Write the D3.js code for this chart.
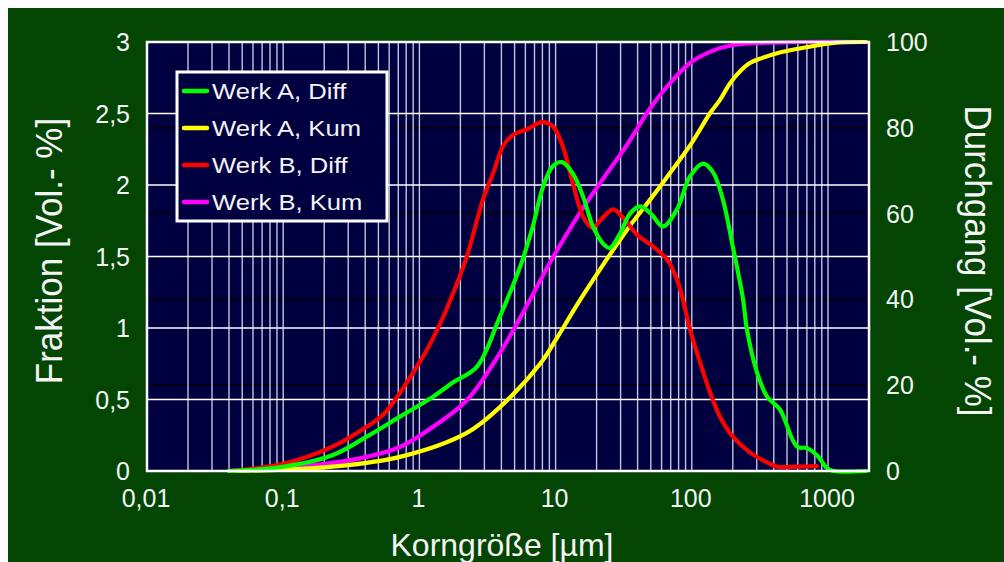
<!DOCTYPE html>
<html><head><meta charset="utf-8">
<script src="https://cdn.jsdelivr.net/npm/d3@7"></script>
<style>body{margin:0;background:#fff;}svg{display:block;font-family:"Liberation Sans",Arial,sans-serif;}</style>
</head><body><svg id="c" width="1004" height="562"></svg>
<script>
// ---- data ----
const seriesNames = ["Werk A, Diff","Werk A, Kum","Werk B, Diff","Werk B, Kum"];
const seriesColors = ["#00ff00","#ffff00","#ff0000","#ff00ff"];
const leftTicks = [0,0.5,1,1.5,2,2.5,3];
const leftTickLabels = ["0","0,5","1","1,5","2","2,5","3"];
const rightTicks = [0,20,40,60,80,100];
const xTicks = [0.01,0.1,1,10,100,1000];
const xTickLabels = ["0,01","0,1","1","10","100","1000"];

const werkA_diff_x = [0.04,0.1,0.23,0.41,0.72,1.26,1.77,2.65,3.9,5.5,6.8,8.1,9.5,11.1,13.4,15.9,18.8,22.3,25,29.7,35.2,41.7,50,61.5,77.8,97,121,143,169,200,238,254,301,357,444,592,700,830,984,1100,1900];
const werkA_diff_y = [0,0.03,0.11,0.24,0.38,0.52,0.62,0.73,1.08,1.43,1.71,1.99,2.13,2.16,2.08,1.92,1.71,1.59,1.56,1.66,1.80,1.85,1.80,1.71,1.83,2.06,2.15,2.09,1.90,1.57,1.20,0.99,0.69,0.52,0.43,0.17,0.16,0.11,0.02,0,0];

const werkA_kum_x = [0.04,0.1,0.23,0.72,2.23,3.9,7.7,10,14.4,21.2,33.4,49.3,65.7,100,136,161,191,230,267,330,423,550,700,1100,1900];
const werkA_kum_y = [0,0.3,1.0,3.3,8.9,14.9,25,30.5,38.8,47,56.2,63.2,68.5,76.5,83.4,86.5,90.4,93.4,95.1,96.3,97.4,98.2,98.8,99.8,100];

const werkB_diff_x = [0.04,0.1,0.23,0.41,0.55,0.81,1.14,1.42,1.68,2.23,2.93,3.47,4.11,4.86,6.17,7.94,9.55,11.3,13.4,15.9,18.6,21.2,26.5,32,39.8,51.9,65.7,77.8,86,97,115,136,161,200,267,357,423,592,830];
const werkB_diff_y = [0,0.05,0.17,0.31,0.40,0.62,0.85,1.03,1.19,1.5,1.9,2.08,2.27,2.35,2.39,2.44,2.41,2.27,2.01,1.78,1.70,1.75,1.83,1.76,1.65,1.57,1.48,1.34,1.2,0.99,0.76,0.55,0.38,0.24,0.13,0.06,0.03,0.03,0.035];

const werkB_kum_x = [0.04,0.1,0.23,0.41,0.72,1.26,2.23,3.9,6.49,9.1,14.4,21.2,33.4,49.3,69.2,97,136,200,440,600,1900];
const werkB_kum_y = [0,0.6,1.9,3.3,5.6,10.3,16.5,27.5,39.9,48.6,59.2,67.1,76,84.5,90.4,95.1,97.7,99.3,99.9,100,100];

// ---- layout ----
const svg = d3.select("#c");
const L = 147, R = 869, T = 42, B = 471;
svg.append("rect").attr("x",8).attr("y",8).attr("width",996).attr("height",554).attr("fill","#034503");
svg.append("rect").attr("x",L).attr("y",T).attr("width",R-L).attr("height",B-T).attr("fill","#000040");

const x = d3.scaleLog().domain([0.01,2000]).range([L,R]);
const yL = d3.scaleLinear().domain([0,3]).range([B,T]);
const yR = d3.scaleLinear().domain([0,100]).range([B,T]);

const grid = svg.append("g");
grid.selectAll("line.blk").data(rightTicks.filter(d=>d>0&&d<100)).join("line")
  .attr("x1",L).attr("x2",R).attr("y1",d=>yR(d)).attr("y2",d=>yR(d))
  .attr("stroke","#000").attr("stroke-width",1.5);
const vt = [];
for (let e=-2;e<=3;e++) for (let m=1;m<=9;m++){ const v=m*Math.pow(10,e); if(v>0.01&&v<2000) vt.push(v);} 
grid.selectAll("line.v").data(vt).join("line")
  .attr("x1",d=>x(d)).attr("x2",d=>x(d)).attr("y1",T).attr("y2",B)
  .attr("stroke","#c4c4dc").attr("stroke-width",1.4);
grid.selectAll("line.w").data(leftTicks.filter(d=>d>0&&d<3)).join("line")
  .attr("x1",L).attr("x2",R).attr("y1",d=>yL(d)).attr("y2",d=>yL(d))
  .attr("stroke","#ffffff").attr("stroke-width",1.6);

// ---- series ----
function pts(xs,ys){return xs.map((v,i)=>[v,ys[i]]);}
const series = [
  {name:seriesNames[3],color:seriesColors[3],data:pts(werkB_kum_x,werkB_kum_y),y:yR},
  {name:seriesNames[1],color:seriesColors[1],data:pts(werkA_kum_x,werkA_kum_y),y:yR},
  {name:seriesNames[2],color:seriesColors[2],data:pts(werkB_diff_x,werkB_diff_y),y:yL},
  {name:seriesNames[0],color:seriesColors[0],data:pts(werkA_diff_x,werkA_diff_y),y:yL}
];
series.forEach(s=>{
  const line = d3.line().x(d=>x(d[0])).y(d=>Math.min(B,s.y(d[1]))).curve(d3.curveCatmullRom.alpha(0.5));
  svg.append("path").attr("d",line(s.data)).attr("fill","none")
    .attr("stroke",s.color).attr("stroke-width",4.2).attr("stroke-linejoin","round").attr("stroke-linecap","round");
});

svg.append("rect").attr("x",L).attr("y",T).attr("width",R-L).attr("height",B-T)
  .attr("fill","none").attr("stroke","#fff").attr("stroke-width",2.5);

// ---- axes labels ----
const tc = "#f4f4f4";
svg.append("g").selectAll("text").data(leftTicks).join("text")
  .attr("x",130).attr("y",d=>yL(d)).attr("dy","0.36em").attr("text-anchor","end")
  .attr("font-size",25).attr("fill",tc).text((d,i)=>leftTickLabels[i]);
svg.append("g").selectAll("text").data(rightTicks).join("text")
  .attr("x",886).attr("y",d=>yR(d)).attr("dy","0.36em").attr("text-anchor","start")
  .attr("font-size",25).attr("fill",tc).text(d=>d);
svg.append("g").selectAll("text").data(xTicks).join("text")
  .attr("x",d=>x(d)-1).attr("y",507).attr("text-anchor","middle")
  .attr("font-size",25).attr("fill",tc).text((d,i)=>xTickLabels[i]);

svg.append("text").attr("x",502).attr("y",556).attr("text-anchor","middle")
  .attr("font-size",32).attr("fill",tc).text("Korngröße [µm]");
svg.append("text").attr("transform","translate(62,251) rotate(-90) scale(1,1.08)").attr("text-anchor","middle")
  .attr("font-size",35).attr("fill",tc).text("Fraktion [Vol.- %]");
svg.append("text").attr("transform","translate(965,261) rotate(90) scale(1,1.08)").attr("text-anchor","middle")
  .attr("font-size",35).attr("fill",tc).text("Durchgang [Vol.- %]");

// ---- legend ----
const lg = svg.append("g");
lg.append("rect").attr("x",177).attr("y",72).attr("width",210).attr("height",149)
  .attr("fill","#000040").attr("stroke","#fff").attr("stroke-width",3);
const rowsY = [91,128,165,202];
seriesNames.forEach((n,i)=>{
  lg.append("line").attr("x1",184).attr("x2",207).attr("y1",rowsY[i]).attr("y2",rowsY[i])
    .attr("stroke",seriesColors[i]).attr("stroke-width",4.5).attr("stroke-linecap","round");
  lg.append("text").attr("transform",`translate(212,${rowsY[i]}) scale(1.22,1.04)`).attr("dy","0.36em")
    .attr("font-size",21).attr("fill",tc).text(n);
});
</script></body></html>
